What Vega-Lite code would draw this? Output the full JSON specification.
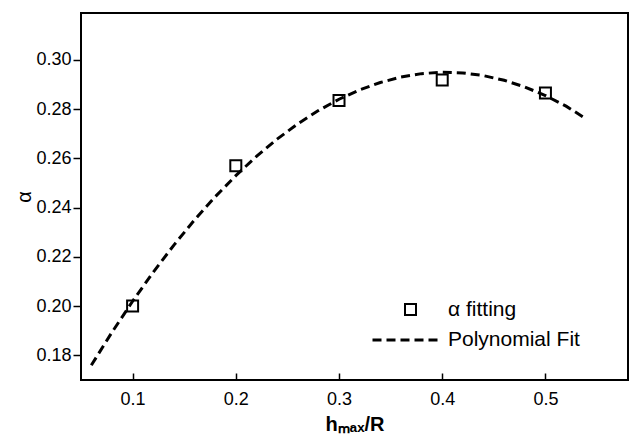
{
  "$schema": "https://vega.github.io/schema/vega-lite/v6.json",
  "width": 547,
  "height": 367,
  "autosize": "none",
  "padding": {"left": 81, "top": 13, "right": 6, "bottom": 57},
  "background": "white",
  "config": {
    "font": "Liberation Sans",
    "view": {"stroke": "black", "strokeWidth": 2},
    "axis": {"grid": false, "domain": false, "tickColor": "black", "tickWidth": 1.5, "labelColor": "black", "titleColor": "black", "labelFont": "Liberation Sans", "titleFont": "Liberation Sans"},
    "legend": {"padding": 0, "labelFont": "Liberation Sans", "labelFontSize": 21, "labelColor": "black"}
  },
  "datasets": {
    "points": [
      {"h": 0.1, "alpha": 0.200, "series": "α fitting"},
      {"h": 0.2, "alpha": 0.257, "series": "α fitting"},
      {"h": 0.3, "alpha": 0.2835, "series": "α fitting"},
      {"h": 0.4, "alpha": 0.2918, "series": "α fitting"},
      {"h": 0.5, "alpha": 0.2865, "series": "α fitting"}
    ],
    "fit": [
      {"h": 0.06, "alpha": 0.17598, "series": "Polynomial Fit"},
      {"h": 0.08, "alpha": 0.18938, "series": "Polynomial Fit"},
      {"h": 0.10, "alpha": 0.20198, "series": "Polynomial Fit"},
      {"h": 0.12, "alpha": 0.21378, "series": "Polynomial Fit"},
      {"h": 0.14, "alpha": 0.22478, "series": "Polynomial Fit"},
      {"h": 0.16, "alpha": 0.23498, "series": "Polynomial Fit"},
      {"h": 0.18, "alpha": 0.24438, "series": "Polynomial Fit"},
      {"h": 0.20, "alpha": 0.25298, "series": "Polynomial Fit"},
      {"h": 0.22, "alpha": 0.26078, "series": "Polynomial Fit"},
      {"h": 0.24, "alpha": 0.26778, "series": "Polynomial Fit"},
      {"h": 0.26, "alpha": 0.27398, "series": "Polynomial Fit"},
      {"h": 0.28, "alpha": 0.27938, "series": "Polynomial Fit"},
      {"h": 0.30, "alpha": 0.28398, "series": "Polynomial Fit"},
      {"h": 0.32, "alpha": 0.28778, "series": "Polynomial Fit"},
      {"h": 0.34, "alpha": 0.29078, "series": "Polynomial Fit"},
      {"h": 0.36, "alpha": 0.29298, "series": "Polynomial Fit"},
      {"h": 0.38, "alpha": 0.29438, "series": "Polynomial Fit"},
      {"h": 0.40, "alpha": 0.29498, "series": "Polynomial Fit"},
      {"h": 0.42, "alpha": 0.29468, "series": "Polynomial Fit"},
      {"h": 0.44, "alpha": 0.29358, "series": "Polynomial Fit"},
      {"h": 0.46, "alpha": 0.29168, "series": "Polynomial Fit"},
      {"h": 0.48, "alpha": 0.28898, "series": "Polynomial Fit"},
      {"h": 0.50, "alpha": 0.28548, "series": "Polynomial Fit"},
      {"h": 0.52, "alpha": 0.28118, "series": "Polynomial Fit"},
      {"h": 0.54, "alpha": 0.27588, "series": "Polynomial Fit"}
    ]
  },
  "encoding": {
    "x": {
      "field": "h", "type": "quantitative",
      "scale": {"domain": [0.05, 0.58], "nice": false, "zero": false},
      "axis": {"values": [0.1, 0.2, 0.3, 0.4, 0.5], "format": ".1f", "tickSize": -7, "labelPadding": 17, "labelFontSize": 18, "title": "hₘₐₓ/R", "titleFontSize": 20, "titleFontWeight": "bold", "titlePadding": 6}
    },
    "y": {
      "field": "alpha", "type": "quantitative",
      "scale": {"domain": [0.170, 0.319], "nice": false, "zero": false},
      "axis": {"values": [0.18, 0.20, 0.22, 0.24, 0.26, 0.28, 0.30], "format": ".2f", "tickSize": 8, "labelPadding": 2, "labelFontSize": 18, "title": "α", "titleFontSize": 20, "titleFontWeight": "normal", "titlePadding": 1}
    }
  },
  "layer": [
    {
      "data": {"name": "fit"},
      "mark": {"type": "line", "color": "black", "strokeWidth": 3},
      "encoding": {
        "strokeDash": {
          "field": "series", "type": "nominal",
          "scale": {"range": [[9, 5]]},
          "legend": {"title": null, "orient": "none", "legendX": 290, "legendY": 293, "symbolType": "stroke", "symbolSize": 4225, "symbolStrokeWidth": 3, "symbolStrokeColor": "black", "labelOffset": 9}
        }
      }
    },
    {
      "data": {"name": "points"},
      "mark": {"type": "point", "shape": "square", "filled": false, "color": "black", "strokeWidth": 2, "size": 121, "opacity": 1},
      "encoding": {
        "shape": {
          "field": "series", "type": "nominal",
          "scale": {"range": ["square"]},
          "legend": {"title": null, "orient": "none", "legendX": 319, "legendY": 286, "symbolSize": 121, "symbolStrokeWidth": 2, "symbolStrokeColor": "black", "symbolFillColor": "transparent", "labelOffset": 27}
        }
      }
    }
  ]
}
